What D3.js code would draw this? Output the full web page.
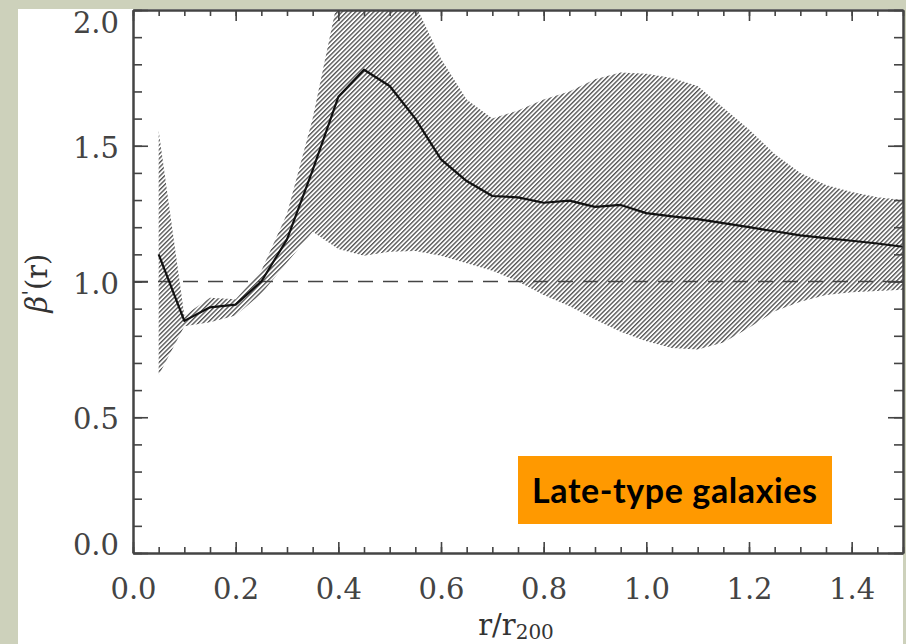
<!DOCTYPE html>
<html>
<head>
<meta charset="utf-8">
<script src="https://cdn.jsdelivr.net/npm/d3@7"></script>
<style>
  html, body { margin: 0; padding: 0; background: #cdd1bb; }
  svg { display: block; }
</style>
</head>
<body>
<svg id="chart" width="906" height="644"></svg>
<script>
// r / r200 sample points
const radius = [0.05, 0.10, 0.15, 0.20, 0.25, 0.30, 0.35, 0.40, 0.45, 0.50,
                0.55, 0.60, 0.65, 0.70, 0.75, 0.80, 0.85, 0.90, 0.95, 1.00,
                1.05, 1.10, 1.15, 1.20, 1.25, 1.30, 1.35, 1.40, 1.45, 1.50];
// median beta'(r)
const betaMid = [1.10, 0.855, 0.905, 0.915, 1.00, 1.155, 1.41, 1.68, 1.78, 1.72,
                 1.60, 1.45, 1.37, 1.315, 1.31, 1.29, 1.298, 1.275, 1.282, 1.252,
                 1.24, 1.23, 1.215, 1.20, 1.185, 1.17, 1.16, 1.15, 1.14, 1.128];
// hatched confidence band
const betaHigh = [1.555, 0.875, 0.94, 0.935, 1.04, 1.25, 1.60, 2.05, 2.30, 2.30,
                  2.02, 1.82, 1.67, 1.60, 1.63, 1.67, 1.70, 1.745, 1.77, 1.765,
                  1.75, 1.72, 1.64, 1.56, 1.47, 1.40, 1.355, 1.33, 1.31, 1.30];
const betaLow = [0.655, 0.835, 0.85, 0.875, 0.955, 1.07, 1.183, 1.12, 1.095, 1.11,
                 1.112, 1.095, 1.067, 1.04, 1.00, 0.95, 0.91, 0.86, 0.815, 0.78,
                 0.755, 0.75, 0.775, 0.83, 0.89, 0.925, 0.95, 0.96, 0.965, 0.97];

const xTicks = [0.0, 0.2, 0.4, 0.6, 0.8, 1.0, 1.2, 1.4];
const xTickLabels = ["0.0", "0.2", "0.4", "0.6", "0.8", "1.0", "1.2", "1.4"];
const yTicks = [0.0, 0.5, 1.0, 1.5, 2.0];
const yTickLabels = ["0.0", "0.5", "1.0", "1.5", "2.0"];
const refLevel = 1.0;
const boxLabel = "Late-type galaxies";

const svg = d3.select("#chart");

// white panel
svg.append("rect").attr("x", 18).attr("y", 9).attr("width", 885).attr("height", 635).attr("fill", "#fff");

const x = d3.scaleLinear().domain([0, 1.5]).range([133, 903]);
const y = d3.scaleLinear().domain([0, 2]).range([553, 10]);

const defs = svg.append("defs");
defs.append("clipPath").attr("id", "plotclip")
  .append("rect").attr("x", x(0)).attr("y", y(2)).attr("width", x(1.5) - x(0)).attr("height", y(0) - y(2));

const pat = defs.append("pattern")
  .attr("id", "hatch")
  .attr("patternUnits", "userSpaceOnUse")
  .attr("width", 3.2).attr("height", 10)
  .attr("patternTransform", "rotate(45)");
pat.append("line")
  .attr("x1", 0.7).attr("y1", 0).attr("x2", 0.7).attr("y2", 10)
  .attr("stroke", "#333").attr("stroke-width", 1.15);

const band = radius.map((r, i) => ({ r, lo: betaLow[i], hi: betaHigh[i] }));
const mid = radius.map((r, i) => ({ r, v: betaMid[i] }));

const plot = svg.append("g").attr("clip-path", "url(#plotclip)");

plot.append("path")
  .datum(band)
  .attr("fill", "url(#hatch)")
  .attr("d", d3.area().x(d => x(d.r)).y0(d => y(d.lo)).y1(d => y(d.hi)));

plot.append("line")
  .attr("x1", x(0)).attr("x2", x(1.5))
  .attr("y1", y(refLevel)).attr("y2", y(refLevel))
  .attr("stroke", "#444").attr("stroke-width", 1.5)
  .attr("stroke-dasharray", "15,10");

plot.append("path")
  .datum(mid)
  .attr("fill", "none")
  .attr("stroke", "#111")
  .attr("stroke-width", 2.2)
  .attr("stroke-linejoin", "round")
  .attr("d", d3.line().x(d => x(d.r)).y(d => y(d.v)));

// axes
const xMinor = d3.range(0, 1.5001, 0.05);
const yMinor = d3.range(0, 2.0001, 0.1);

function styleAxis(g) {
  g.select(".domain").attr("stroke", "#444").attr("stroke-width", 2);
  g.selectAll(".tick line").attr("stroke", "#444").attr("stroke-width", 1.6);
}

const axes = [
  [d3.axisBottom(x).tickValues(xMinor).tickSize(-6), `translate(0,${y(0)})`],
  [d3.axisTop(x).tickValues(xMinor).tickSize(-6), `translate(0,${y(2)})`],
  [d3.axisLeft(y).tickValues(yMinor).tickSize(-9), `translate(${x(0)},0)`],
  [d3.axisRight(y).tickValues(yMinor).tickSize(-9), `translate(${x(1.5)},0)`]
];
axes.forEach(([ax, tr]) => {
  svg.append("g").attr("transform", tr)
    .call(ax.tickSizeOuter(0).tickFormat(""))
    .call(styleAxis);
});

const xMajor = svg.append("g").attr("transform", `translate(0,${y(0)})`)
  .call(d3.axisBottom(x).tickValues(xTicks).tickSize(-11).tickSizeOuter(0)
    .tickFormat((d, i) => xTickLabels[i]))
  .call(styleAxis);
xMajor.selectAll("text").attr("y", 46).attr("dy", 0);

svg.append("g").attr("transform", `translate(0,${y(2)})`)
  .call(d3.axisTop(x).tickValues(xTicks).tickSize(-11).tickSizeOuter(0).tickFormat(""))
  .call(styleAxis);

const yMajor = svg.append("g").attr("transform", `translate(${x(0)},0)`)
  .call(d3.axisLeft(y).tickValues(yTicks).tickSize(-15).tickSizeOuter(0)
    .tickFormat((d, i) => yTickLabels[i]))
  .call(styleAxis);
yMajor.selectAll("text")
  .attr("x", -14)
  .attr("dy", d => d === 2 ? 22 : d === 0 ? 1 : 11.5);

svg.append("g").attr("transform", `translate(${x(1.5)},0)`)
  .call(d3.axisRight(y).tickValues(yTicks).tickSize(-15).tickSizeOuter(0).tickFormat(""))
  .call(styleAxis);

svg.selectAll(".tick text")
  .attr("font-family", "DejaVu Serif")
  .attr("font-size", 29)
  .attr("fill", "#444");

// axis titles
const xt = svg.append("text")
  .attr("x", 516).attr("y", 635)
  .attr("text-anchor", "middle")
  .attr("font-family", "DejaVu Serif")
  .attr("font-size", 29)
  .attr("fill", "#333");
xt.append("tspan").text("r/r");
xt.append("tspan").attr("font-size", 20).attr("dy", 4).text("200");

const yt = svg.append("text")
  .attr("transform", "translate(47,283) rotate(-90)")
  .attr("text-anchor", "middle")
  .attr("font-family", "DejaVu Serif")
  .attr("font-size", 29)
  .attr("fill", "#333");
yt.append("tspan").attr("font-style", "italic").text("β");
yt.append("tspan").attr("font-size", 20).attr("dy", -10).text("'");
yt.append("tspan").attr("dy", 10).text("(r)");

// label box
svg.append("rect")
  .attr("x", 518).attr("y", 456).attr("width", 314).attr("height", 68)
  .attr("fill", "#ff9900");
const lbl = svg.append("text")
  .attr("x", 532).attr("y", 503)
  .attr("font-family", "Lato")
  .attr("font-weight", 700)
  .attr("font-size", 34)
  .attr("fill", "#000")
  .text(boxLabel);
// tighten spacing so the label spans the same width as the original
const w = lbl.node().getComputedTextLength();
lbl.attr("letter-spacing", (285 - w) / (boxLabel.length - 1));
</script>
</body>
</html>
